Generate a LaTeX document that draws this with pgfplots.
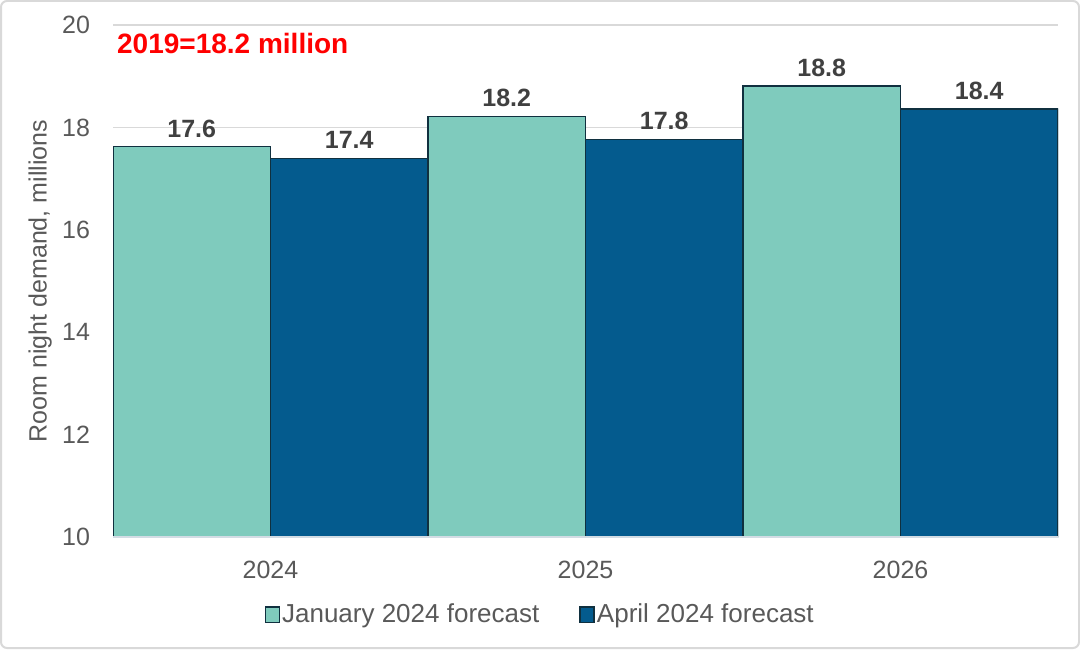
\documentclass[border=0pt]{standalone}
\usepackage{pgfplots}
\usepackage{pgfplotstable}
\pgfplotsset{compat=1.18}
\usepackage{fontspec}
\setmainfont{Liberation Sans}

\definecolor{janteal}{HTML}{7FCBBD}
\definecolor{aprblue}{HTML}{045B8E}
\definecolor{barline}{HTML}{10303F}
\definecolor{txtgray}{HTML}{595959}
\definecolor{lblgray}{HTML}{404040}
\definecolor{gridgray}{HTML}{D9D9D9}
\definecolor{axisgray}{HTML}{D3DCE4}

% room night demand, millions
\pgfplotstableread{
x jan apr
0 17.62 17.40
1 18.22 17.77
2 18.81 18.36
}\demand

\begin{document}
\begin{tikzpicture}
\begin{axis}[
  set layers,
  at={(56.5pt,56pt)}, anchor=south west,
  scale only axis,
  width=472.5pt, height=256pt,
  ybar=0pt, bar width=0.5,
  xmin=-0.5, xmax=2.5,
  ymin=10, ymax=20,
  ytick={10,12,...,20},
  xtick={0,1,2},
  xticklabels={2024,2025,2026},
  major tick length=0pt,
  axis line style={draw=none},
  ymajorgrids,
  grid style={draw=gridgray, line width=0.8pt},
  tick label style={font=\fontsize{12.5}{15}\selectfont, text=txtgray},
  /pgf/number format/assume math mode=true,
  xticklabel style={anchor=center, yshift=-16.5pt},
  yticklabel style={anchor=east, xshift=-8pt},
  ylabel={Room night demand, millions},
  ylabel style={font=\fontsize{12.5}{15}\selectfont, text=txtgray,
    at={(axis description cs:-0.077,0.5)}, anchor=center},
  nodes near coords,
  point meta=y,
  every node near coord/.append style={font=\bfseries\fontsize{12.5}{15}\selectfont,
    text=lblgray, yshift=1pt,
    /pgf/number format/.cd, fixed, fixed zerofill, precision=1},
  legend columns=2,
  legend style={draw=none, fill=none, at={(0.452,-0.152)}, anchor=center,
    font=\fontsize{13}{15}\selectfont, text=txtgray,
    /tikz/every even column/.append style={column sep=19pt},
    nodes={inner xsep=1pt}},
  legend image code/.code={\draw[#1, draw=barline, line width=0.8pt] (0pt,-3.8pt) rectangle (7pt,3.8pt);},
]
\addplot[fill=janteal, draw=barline, line width=0.6pt]
  table[x=x, y=jan] {\demand};
\addplot[fill=aprblue, draw=barline, line width=0.6pt]
  table[x=x, y=apr] {\demand};
\legend{January 2024 forecast, April 2024 forecast}
\begin{pgfonlayer}{axis foreground}
\draw[draw=axisgray, line width=1.4pt] (rel axis cs:0,0) -- (rel axis cs:1,0);
\end{pgfonlayer}
\node[anchor=west, text=red, font=\bfseries\fontsize{14}{17}\selectfont, inner sep=0pt]
  at (rel axis cs:0.004,0.963) {2019=18.2 million};
\end{axis}
\draw[gridgray, line width=1pt, rounded corners=3pt] (0.5pt,0.5pt) rectangle (539.5pt,324pt);
\end{tikzpicture}
\end{document}
